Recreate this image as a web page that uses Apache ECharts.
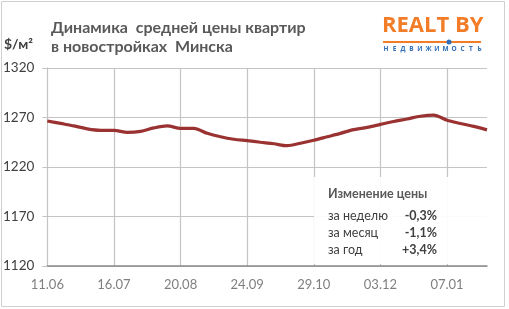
<!DOCTYPE html>
<html><head><meta charset="utf-8">
<script src="https://cdn.jsdelivr.net/npm/echarts@6/dist/echarts.min.js"></script>
<style>html,body{margin:0;padding:0;background:#fff}#c{width:509px;height:309px}</style>
</head><body><div id="c"></div>
<script>
var categories = ['11.06','18.06','25.06','02.07','09.07','16.07','23.07','30.07','06.08','13.08','20.08','27.08','03.09','10.09','17.09','24.09','01.10','08.10','15.10','22.10','29.10','05.11','12.11','19.11','26.11','03.12','10.12','17.12','24.12','31.12','07.01','14.01','21.01','28.01'];
var prices = [1266.5,1264,1261.5,1258.5,1257,1257,1255,1256,1259.5,1261.5,1259,1259,1254,1250.5,1248,1246.6,1245,1243.5,1241.5,1244,1247,1250.5,1254,1257.8,1260,1263,1266,1268.5,1271.3,1272.5,1267.3,1264,1261,1257.5];
var yTicks = [1120,1170,1220,1270,1320];
var changeLabels = ['за неделю','за месяц','за год'];
var changeValues = ['-0,3%','-1,1%','+3,4%'];
var FONT = 'Lato, "Open Sans", sans-serif';
var LOGO_FONT = '"Open Sans", sans-serif';

var chart = echarts.init(document.getElementById('c'), null, {renderer:'canvas'});
var graphics = [
  {type:'rect', shape:{x:1.5,y:1.5,width:503,height:305}, style:{fill:'none',stroke:'#d0d0d0',lineWidth:1}, z:-1},
  {type:'text', left:4, top:37, style:{text:'$/м²', font:'bold 14px '+FONT, fill:'#404040'}},
  {type:'text', left:382, top:15, style:{text:'REALT BY', font:'bold 22px '+LOGO_FONT, fill:'#f27c28'}},
  {type:'rect', shape:{x:383,y:41,width:98,height:2}, style:{fill:'#f27c28'}},
  {type:'circle', shape:{cx:449,cy:42,r:2.5}, style:{fill:'#2f6fb8'}, z:10},
  {type:'rect', shape:{x:314,y:177,width:173,height:87}, style:{fill:'rgba(255,255,255,0.93)'}, z:5},
  {type:'text', left:328, top:187, style:{text:'Изменение цены', font:'bold 12.5px '+FONT, fill:'#595959'}, z:6}
];
var logoSub = 'НЕДВИЖИМОСТЬ';
for (var k = 0; k < logoSub.length; k++) {
  graphics.push({type:'text', x:386 + k*8.5, y:49.5, style:{text:logoSub[k], font:'bold 6.5px '+LOGO_FONT, fill:'#2f6fb8', align:'center', verticalAlign:'middle'}});
}
for (var i = 0; i < changeLabels.length; i++) {
  graphics.push({type:'text', left:328, top:209 + i*17, style:{text:changeLabels[i], font:'12.5px '+FONT, fill:'#404040'}, z:6});
  graphics.push({type:'text', x:437, y:209 + i*17, style:{text:changeValues[i], font:'bold 12.5px '+FONT, fill:'#404040', align:'right'}, z:6});
}

chart.setOption({
  animation:false,
  backgroundColor:'#fff',
  title:{text:'Динамика  средней цены квартир\nв новостройках  Минска', left:46, top:13,
    textStyle:{fontFamily:FONT, fontWeight:'bold', fontSize:16, color:'#595959', lineHeight:19}},
  grid:{left:45, right:22, top:68, bottom:43, containLabel:false},
  xAxis:{type:'category', data:categories, boundaryGap:false,
    axisLine:{show:true, lineStyle:{color:'#898989', width:1.5}},
    axisTick:{show:false},
    axisLabel:{interval:4, color:'#7f7f7f', fontSize:13, fontFamily:FONT, margin:12},
    splitLine:{show:true, interval:4, lineStyle:{color:'#c4c4c4', width:1.2}}},
  yAxis:{type:'value', min:1120, max:1320, interval:50,
    axisLine:{show:true, lineStyle:{color:'#c4c4c4'}},
    axisTick:{show:true, length:5, lineStyle:{color:'#c4c4c4'}},
    axisLabel:{color:'#404040', fontSize:13.5, fontFamily:FONT, margin:13, formatter:function(v){return String(v);}},
    splitLine:{show:true, lineStyle:{color:'#c4c4c4', width:1.2}}},
  series:[{type:'line', data:prices, smooth:0.3, symbol:'none',
    lineStyle:{color:'#9b3232', width:3.2}}],
  graphic:graphics
});
</script></body></html>
